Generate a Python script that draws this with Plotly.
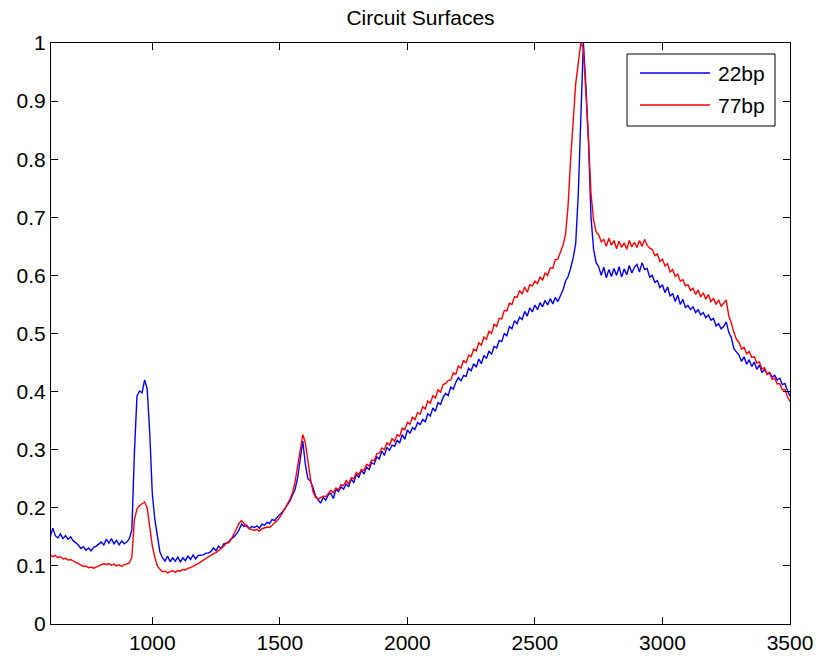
import numpy as np
import plotly.graph_objects as go

# Wavenumber grid (cm^-1), step 10
wavenumber = list(range(600, 3510, 10))

# 22bp series (blue), one row per 100 cm^-1
bp22 = [
    0.150, 0.165, 0.152, 0.148, 0.155, 0.147, 0.152, 0.146, 0.150, 0.143,  # 600
    0.140, 0.136, 0.130, 0.133, 0.127, 0.131, 0.126, 0.132, 0.134, 0.137,  # 700
    0.141, 0.136, 0.146, 0.139, 0.147, 0.138, 0.144, 0.136, 0.143, 0.138,  # 800
    0.141, 0.147, 0.162, 0.295, 0.392, 0.401, 0.398, 0.420, 0.405, 0.330,  # 900
    0.225, 0.180, 0.148, 0.124, 0.114, 0.108, 0.117, 0.107, 0.114, 0.108,  # 1000
    0.115, 0.107, 0.114, 0.109, 0.117, 0.111, 0.119, 0.112, 0.118, 0.119,  # 1100
    0.119, 0.122, 0.122, 0.125, 0.131, 0.126, 0.134, 0.130, 0.138, 0.139,  # 1200
    0.142, 0.147, 0.150, 0.155, 0.162, 0.172, 0.168, 0.170, 0.164, 0.168,  # 1300
    0.166, 0.169, 0.165, 0.172, 0.170, 0.175, 0.173, 0.180, 0.178, 0.184,  # 1400
    0.188, 0.193, 0.199, 0.205, 0.212, 0.222, 0.232, 0.252, 0.285, 0.315,  # 1500
    0.275, 0.250, 0.246, 0.235, 0.220, 0.214, 0.208, 0.218, 0.213, 0.222,  # 1600
    0.225, 0.216, 0.232, 0.228, 0.236, 0.232, 0.241, 0.236, 0.250, 0.243,  # 1700
    0.258, 0.252, 0.265, 0.258, 0.270, 0.266, 0.278, 0.275, 0.288, 0.284,  # 1800
    0.298, 0.290, 0.304, 0.299, 0.308, 0.306, 0.316, 0.312, 0.326, 0.318,  # 1900
    0.334, 0.328, 0.338, 0.335, 0.347, 0.343, 0.352, 0.348, 0.362, 0.358,  # 2000
    0.372, 0.366, 0.381, 0.378, 0.390, 0.397, 0.393, 0.408, 0.404, 0.416,  # 2100
    0.424, 0.418, 0.428, 0.426, 0.440, 0.436, 0.448, 0.442, 0.456, 0.448,  # 2200
    0.462, 0.457, 0.470, 0.464, 0.478, 0.475, 0.488, 0.486, 0.500, 0.496,  # 2300
    0.512, 0.508, 0.522, 0.517, 0.528, 0.524, 0.538, 0.530, 0.544, 0.537,  # 2400
    0.549, 0.541, 0.553, 0.546, 0.557, 0.549, 0.560, 0.551, 0.562, 0.555,  # 2500
    0.566, 0.575, 0.590, 0.598, 0.612, 0.630, 0.655, 0.740, 0.870, 1.000,  # 2600
    0.925, 0.830, 0.700, 0.645, 0.622, 0.615, 0.600, 0.614, 0.596, 0.610,  # 2700
    0.598, 0.612, 0.600, 0.615, 0.597, 0.611, 0.601, 0.617, 0.604, 0.614,  # 2800
    0.619, 0.606, 0.622, 0.610, 0.612, 0.597, 0.600, 0.588, 0.591, 0.579,  # 2900
    0.584, 0.570, 0.580, 0.564, 0.569, 0.555, 0.566, 0.550, 0.559, 0.545,  # 3000
    0.548, 0.541, 0.546, 0.536, 0.541, 0.532, 0.536, 0.527, 0.532, 0.523,  # 3100
    0.526, 0.513, 0.517, 0.508, 0.512, 0.520, 0.502, 0.493, 0.474, 0.468,  # 3200
    0.463, 0.452, 0.460, 0.447, 0.455, 0.443, 0.451, 0.438, 0.446, 0.433,  # 3300
    0.438, 0.431, 0.433, 0.425, 0.428, 0.420, 0.423, 0.412, 0.414, 0.402,  # 3400
    0.392,                                                                 # 3500
]

# 77bp series (red)
bp77 = [
    0.119, 0.116, 0.118, 0.114, 0.116, 0.112, 0.113, 0.110, 0.111, 0.108,  # 600
    0.106, 0.104, 0.101, 0.099, 0.100, 0.097, 0.098, 0.096, 0.098, 0.100,  # 700
    0.103, 0.104, 0.102, 0.104, 0.101, 0.103, 0.100, 0.102, 0.099, 0.102,  # 800
    0.103, 0.105, 0.115, 0.180, 0.198, 0.204, 0.207, 0.210, 0.200, 0.168,  # 900
    0.135, 0.115, 0.100, 0.094, 0.090, 0.091, 0.088, 0.090, 0.092, 0.089,  # 1000
    0.092, 0.091, 0.094, 0.093, 0.096, 0.097, 0.099, 0.101, 0.104, 0.107,  # 1100
    0.110, 0.113, 0.116, 0.119, 0.121, 0.123, 0.126, 0.130, 0.134, 0.139,  # 1200
    0.140, 0.146, 0.155, 0.165, 0.173, 0.178, 0.172, 0.168, 0.164, 0.162,  # 1300
    0.161, 0.163, 0.160, 0.164, 0.165, 0.167, 0.166, 0.170, 0.173, 0.178,  # 1400
    0.184, 0.190, 0.198, 0.207, 0.215, 0.226, 0.245, 0.272, 0.302, 0.326,  # 1500
    0.312, 0.280, 0.250, 0.228, 0.218, 0.215, 0.217, 0.220, 0.219, 0.224,  # 1600
    0.230, 0.226, 0.234, 0.231, 0.240, 0.238, 0.247, 0.241, 0.252, 0.250,  # 1700
    0.261, 0.257, 0.266, 0.264, 0.275, 0.272, 0.282, 0.281, 0.293, 0.294,  # 1800
    0.303, 0.300, 0.312, 0.308, 0.319, 0.314, 0.326, 0.323, 0.337, 0.334,  # 1900
    0.347, 0.344, 0.356, 0.352, 0.364, 0.361, 0.374, 0.370, 0.384, 0.380,  # 2000
    0.393, 0.389, 0.403, 0.399, 0.412, 0.414, 0.419, 0.420, 0.432, 0.430,  # 2100
    0.444, 0.440, 0.454, 0.449, 0.463, 0.460, 0.473, 0.470, 0.484, 0.480,  # 2200
    0.494, 0.490, 0.504, 0.500, 0.516, 0.512, 0.526, 0.525, 0.540, 0.539,  # 2300
    0.552, 0.550, 0.563, 0.562, 0.574, 0.568, 0.580, 0.571, 0.584, 0.582,  # 2400
    0.590, 0.586, 0.597, 0.592, 0.604, 0.600, 0.613, 0.612, 0.627, 0.628,  # 2500
    0.640, 0.652, 0.670, 0.720, 0.800, 0.865, 0.930, 0.965, 1.000, 0.990,  # 2600
    0.920, 0.835, 0.740, 0.695, 0.675, 0.670, 0.658, 0.662, 0.650, 0.664,  # 2700
    0.652, 0.660, 0.646, 0.659, 0.648, 0.656, 0.645, 0.660, 0.649, 0.657,  # 2800
    0.648, 0.660, 0.650, 0.662, 0.652, 0.647, 0.645, 0.634, 0.637, 0.624,  # 2900
    0.628, 0.616, 0.620, 0.606, 0.610, 0.598, 0.602, 0.590, 0.593, 0.582,  # 3000
    0.584, 0.574, 0.578, 0.567, 0.575, 0.563, 0.570, 0.559, 0.567, 0.555,  # 3100
    0.560, 0.550, 0.558, 0.547, 0.552, 0.558, 0.530, 0.518, 0.502, 0.490,  # 3200
    0.485, 0.473, 0.476, 0.465, 0.469, 0.459, 0.460, 0.449, 0.451, 0.439,  # 3300
    0.441, 0.429, 0.432, 0.421, 0.423, 0.413, 0.414, 0.403, 0.404, 0.391,  # 3400
    0.383,                                                                 # 3500
]

series_names = ["22bp", "77bp"]
series_colors = ["#0000ff", "#ff0000"]

x_ticks = [1000, 1500, 2000, 2500, 3000, 3500]
y_ticks = [0, 0.1, 0.2, 0.3, 0.4, 0.5, 0.6, 0.7, 0.8, 0.9, 1]
y_tick_labels = ["0", "0.1", "0.2", "0.3", "0.4", "0.5", "0.6", "0.7", "0.8", "0.9", "1"]

FONT = "Arial, Liberation Sans, Helvetica, sans-serif"
W, H = 818, 656
L, R, T, B = 51, 790, 43, 624  # plot area in pixels


def px_x(p):
    return (p - L) / (R - L)


def px_y(p):
    return (B - p) / (B - T)


fig = go.Figure()
for name, ys, col in zip(series_names, [bp22, bp77], series_colors):
    fig.add_trace(go.Scatter(x=wavenumber, y=ys, mode="lines", name=name,
                             line=dict(color=col, width=1.4), showlegend=False))

axis_common = dict(showline=True, linecolor="black", linewidth=1, mirror="ticks",
                   ticks="inside", ticklen=7, tickcolor="black", tickwidth=1,
                   showgrid=False, zeroline=False, automargin=False,
                   tickfont=dict(family=FONT, size=21, color="black"))

# Legend box drawn in MATLAB style (long line samples)
shapes = [dict(type="rect", xref="paper", yref="paper",
               x0=px_x(627), x1=px_x(775), y0=px_y(126), y1=px_y(54),
               fillcolor="white", line=dict(color="black", width=1), layer="above")]
annotations = []
for i, (name, col) in enumerate(zip(series_names, series_colors)):
    yy = 73 + 32 * i
    shapes.append(dict(type="line", xref="paper", yref="paper",
                       x0=px_x(640), x1=px_x(710), y0=px_y(yy), y1=px_y(yy),
                       line=dict(color=col, width=1.4), layer="above"))
    annotations.append(dict(xref="paper", yref="paper", x=px_x(716), y=px_y(yy),
                            xanchor="left", yanchor="middle", text=name, showarrow=False,
                            font=dict(family=FONT, size=21, color="black")))

fig.update_layout(
    width=W, height=H,
    margin=dict(l=L, r=W - R, t=T, b=H - B),
    paper_bgcolor="white", plot_bgcolor="white",
    title=dict(text="Circuit Surfaces", x=(L + R) / 2 / W, xanchor="center",
               y=1 - 18 / H, yanchor="middle",
               font=dict(family=FONT, size=21, color="black")),
    xaxis=dict(range=[603, 3500], tickvals=x_ticks, **axis_common),
    yaxis=dict(range=[0, 1], tickvals=y_ticks, ticktext=y_tick_labels, **axis_common),
    shapes=shapes,
    annotations=annotations,
    showlegend=False,
)

fig.write_html("out.html", config={"displayModeBar": False},
               post_script="document.body.style.margin='0px';document.body.style.overflow='hidden';")
